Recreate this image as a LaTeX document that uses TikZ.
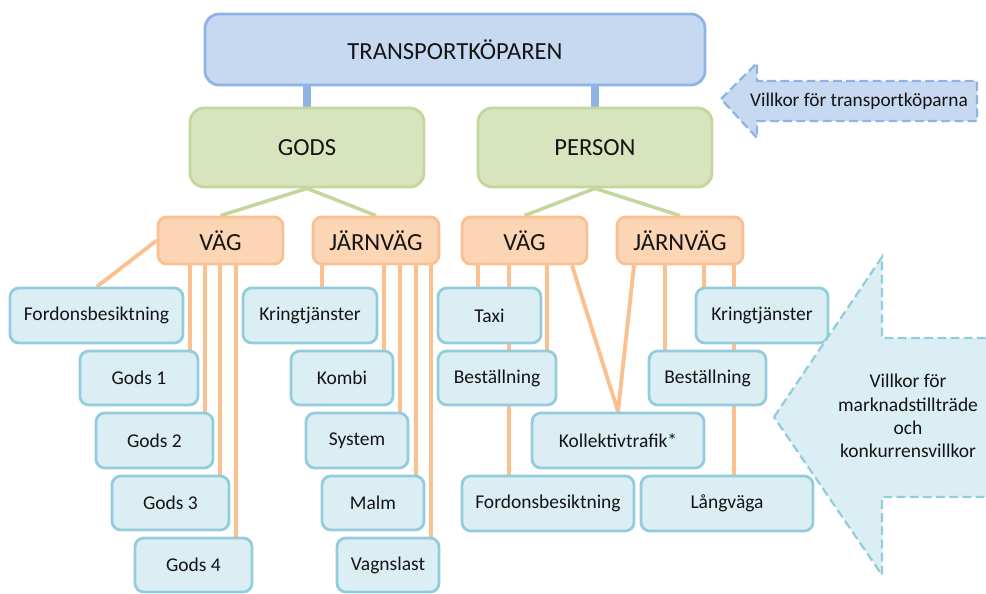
\documentclass[tikz,border=0pt]{standalone}
\usepackage{fontspec}
\setmainfont{Carlito}
\usetikzlibrary{backgrounds}
\definecolor{topfill}{HTML}{C6D9F1}
\definecolor{topline}{HTML}{8EB4E3}
\definecolor{grfill}{HTML}{D7E4BD}
\definecolor{grline}{HTML}{C3D69B}
\definecolor{orfill}{HTML}{FCD5B5}
\definecolor{orline}{HTML}{FAC090}
\definecolor{lffill}{HTML}{DBEEF4}
\definecolor{lfline}{HTML}{93CDDD}
\definecolor{txt}{HTML}{141414}
\newcommand\bx[7]{\node[#2, minimum width={(#5-#3)*0.02cm}, minimum height={(#6-#4)*0.02cm}] (#1) at ({(#3+#5)/2},{(#4+#6)/2}) {#7};}
\tikzset{
  basebox/.style={rectangle, inner sep=0pt, line width=1.6pt, text=txt},
  topbox/.style={basebox, draw=topline, fill=topfill, rounded corners=8pt, font=\fontsize{14}{16}\selectfont},
  grbox/.style={basebox, draw=grline, fill=grfill, rounded corners=8pt, font=\fontsize{14}{16}\selectfont},
  orbox/.style={basebox, draw=orline, fill=orfill, rounded corners=5pt, font=\fontsize{14}{16}\selectfont},
  leaf/.style={basebox, draw=lfline, fill=lffill, rounded corners=5pt, font=\fontsize{11.1}{13}\selectfont},
  bconn/.style={draw=topline, line width=4.5pt},
  gconn/.style={draw=grline, line width=2pt},
  oconn/.style={draw=orline, line width=2.2pt},
  arrowdash/.style={line width=1.3pt, dash pattern=on 5pt off 2.5pt, line join=miter},
}
\begin{document}
\begin{tikzpicture}[x=0.02cm,y=-0.02cm]
\useasboundingbox (0,0) rectangle (986,594);
\clip (0,0) rectangle (986,594);
% boxes
\bx{top}{topbox}{205}{14}{705}{85}{TRANSPORTKÖPAREN}
\bx{gods}{grbox}{190}{108}{424}{187}{GODS}
\bx{pers}{grbox}{478}{108}{712}{187}{PERSON}
\bx{vagL}{orbox}{158}{217}{283}{264}{VÄG}
\bx{jvL}{orbox}{313}{217}{439}{264}{JÄRNVÄG}
\bx{vagR}{orbox}{462}{217}{587}{264}{VÄG}
\bx{jvR}{orbox}{617}{217}{743}{264}{JÄRNVÄG}
\bx{fb1}{leaf}{10}{288}{183}{343}{Fordonsbesiktning}
\bx{g1}{leaf}{80}{351}{198}{405}{Gods 1}
\bx{g2}{leaf}{96}{413}{213}{468}{Gods 2}
\bx{g3}{leaf}{112}{476}{229}{530}{Gods 3}
\bx{g4}{leaf}{135}{538}{252}{592}{Gods 4}
\bx{kt1}{leaf}{243}{288}{377}{343}{Kringtjänster}
\bx{kombi}{leaf}{291}{351}{393}{405}{Kombi}
\bx{sys}{leaf}{306}{413}{408}{468}{System}
\bx{malm}{leaf}{322}{476}{424}{530}{Malm}
\bx{vagn}{leaf}{337}{538}{439}{592}{Vagnslast}
\bx{taxi}{leaf}{438}{288}{541}{343}{Taxi}
\bx{best1}{leaf}{438}{351}{556}{405}{Beställning}
\bx{koll}{leaf}{532}{413}{704}{468}{Kollektivtrafik*}
\bx{fb2}{leaf}{462}{476}{634}{531}{Fordonsbesiktning}
\bx{kt2}{leaf}{696}{288}{828}{343}{Kringtjänster}
\bx{best2}{leaf}{649}{351}{766}{405}{Beställning}
\bx{lang}{leaf}{641}{476}{813}{531}{Långväga}
% arrows
\draw[arrowdash, draw=topline, fill=topfill] (721,99) -- (757,63) -- (757,81) -- (977,81) -- (977,121) -- (757,121) -- (757,138) -- cycle;
\node[text=txt, font=\fontsize{11}{13}\selectfont, anchor=center] (arrsmall) at (859,101) {Villkor för transportköparna};
\draw[arrowdash, draw=lfline, fill=lffill] (774,417) -- (882,257) -- (882,338) -- (1000,338) -- (1000,497) -- (882,497) -- (882,575) -- cycle;
\node[text=txt, font=\fontsize{11.1}{13.2}\selectfont, align=center, anchor=center] (arrbig) at (908,416) {Villkor för\\marknadstillträde\\och\\konkurrensvillkor};
% connectors behind boxes
\begin{pgfonlayer}{background}
\draw[bconn] (gods.north) -- (gods.north |- top.south);
\draw[bconn] (pers.north) -- (pers.north |- top.south);
\draw[gconn] (gods.south) -- (vagL.north);
\draw[gconn] (gods.south) -- (jvL.north);
\draw[gconn] (pers.south) -- (vagR.north);
\draw[gconn] (pers.south) -- (jvR.north);
% left VÄG
\draw[oconn] (vagL.west) -- (97,0 |- fb1.north);
\draw[oconn] (190,0 |- vagL.south) -- (190,0 |- g1.north);
\draw[oconn] (205,0 |- vagL.south) -- (205,0 |- g2.north);
\draw[oconn] (220,0 |- vagL.south) -- (220,0 |- g3.north);
\draw[oconn] (236,0 |- vagL.south) -- (236,0 |- g4.north);
% left JÄRNVÄG
\draw[oconn] (322,0 |- jvL.south) -- (322,0 |- kt1.north);
\draw[oconn] (384,0 |- jvL.south) -- (384,0 |- kombi.north);
\draw[oconn] (400,0 |- jvL.south) -- (400,0 |- sys.north);
\draw[oconn] (416,0 |- jvL.south) -- (416,0 |- malm.north);
\draw[oconn] (431,0 |- jvL.south) -- (431,0 |- vagn.north);
% right VÄG
\draw[oconn] (478,0 |- vagR.south) -- (478,0 |- taxi.north);
\draw[oconn] (509,0 |- vagR.south) -- (509,0 |- fb2.north);
\draw[oconn] (547,0 |- vagR.south) -- (547,0 |- best1.north);
\draw[oconn] (572,0 |- vagR.south) -- (618,0 |- koll.north);
% right JÄRNVÄG
\draw[oconn] (634,0 |- jvR.south) -- (618,0 |- koll.north);
\draw[oconn] (665,0 |- jvR.south) -- (665,0 |- best2.north);
\draw[oconn] (704,0 |- jvR.south) -- (704,0 |- kt2.north);
\draw[oconn] (734,0 |- jvR.south) -- (734,0 |- lang.north);
\end{pgfonlayer}
\end{tikzpicture}
\end{document}
